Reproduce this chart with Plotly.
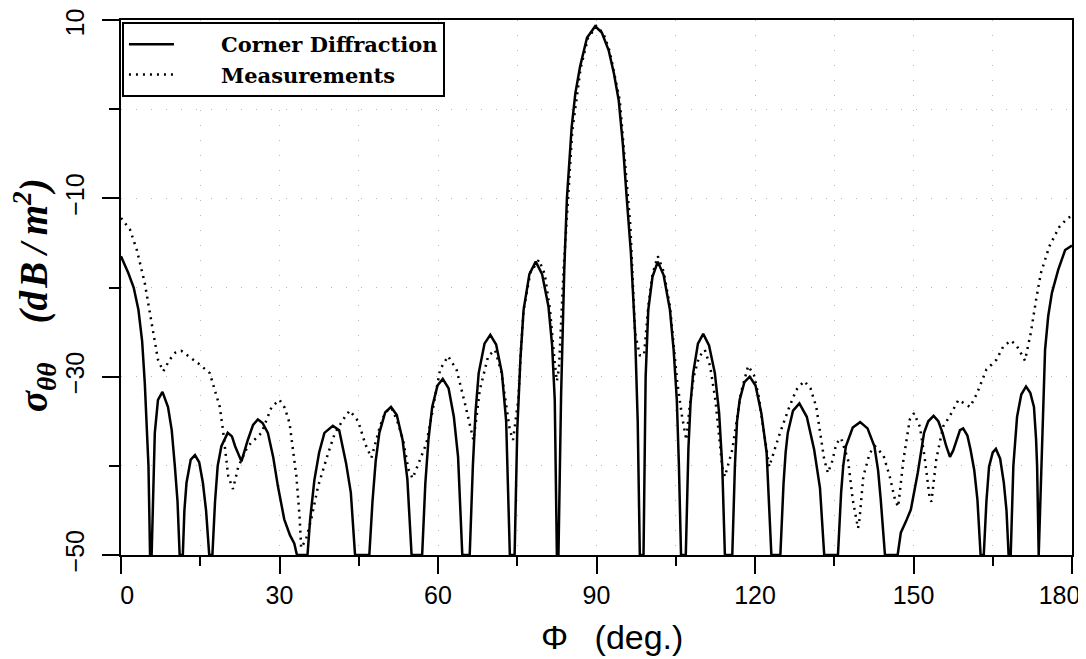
import plotly.graph_objects as go

# Corner Diffraction (solid)
phi_cd = [0, 1.4, 2.4, 3.3, 4.0, 4.5, 5.2, 5.5,
          5.8, 6.1, 6.4, 7.0, 7.85, 8.9, 9.6, 10.2, 10.7, 11.1,
          11.7, 12.0, 12.4, 13.2, 14.0, 14.8, 15.5, 16.1, 16.7,
          17.3, 17.8, 18.3, 19.0, 20.2, 21.0, 21.6, 22.8, 24.0, 25.0, 25.9, 26.8, 27.8, 28.8, 29.7, 30.9, 32.0, 32.8, 33.3, 35.3,
          35.8, 36.6, 37.5, 38.5, 40.1, 41.3, 42.6, 43.5, 44.3,
          47.0, 47.6, 48.2, 48.9, 50.0, 51.1, 52.2, 53.3, 54.2, 55.0,
          57.0, 57.6, 58.2, 58.9, 59.9, 60.9, 62.0, 63.0, 63.8, 64.6,
          66.0, 66.6, 67.1, 67.7, 68.8, 69.9, 71.0, 72.1, 72.9, 73.6,
          74.5, 75.0, 75.6, 76.2, 77.3, 78.5, 79.7, 80.9, 81.6, 82.1, 82.5,
          82.8, 83.3, 83.9, 84.4, 85.3, 86.0, 86.9, 88.2, 89.75, 91.0, 92.3, 93.3, 94.2, 95.0, 95.7, 96.5, 97.3, 97.8, 98.2,
          98.9, 99.3, 99.8, 100.6, 101.6, 102.7, 103.9, 104.6, 105.2, 105.6, 106.0,
          106.9, 107.4, 107.8, 108.3, 109.2, 110.2, 111.3, 112.4, 113.2, 113.8, 114.3,
          115.7, 116.2, 116.6, 117.1, 118.0, 119.0, 120.1, 121.2, 122.2, 123.1,
          124.8, 125.4, 125.8, 126.2, 127.2, 128.4, 129.8, 131.2, 132.3, 133.1,
          135.7, 136.3, 136.7, 137.2, 138.5, 139.9, 141.3, 142.6, 143.3, 143.8, 144.6,
          147.0, 147.6, 148.6, 149.5, 150.8, 151.4, 152.0, 152.8, 153.8, 154.7, 155.5, 156.2, 156.9, 157.5, 158.1, 158.8, 159.4, 160.2, 160.8, 161.5, 162.1, 162.7,
          163.3, 163.8, 164.3, 165.0, 165.6, 166.4, 167.1, 167.6, 168.0,
          168.4, 168.9, 169.6, 170.4, 171.3, 172.1, 172.8, 173.2, 173.4, 173.7,
          174.0, 174.4, 174.9, 175.5, 176.2, 177.4, 178.7, 180]
sigma_cd = [-16.5, -18.4, -20.0, -22.5, -26.0, -30.7, -40, -50,
            -50, -42, -36.3, -32.6, -31.7, -33.4, -36, -40.1, -44, -50,
            -50, -45, -41.9, -39.3, -38.8, -39.6, -41.9, -45, -50,
            -50, -44, -40, -37.8, -36.3, -36.7, -37.8, -39.5, -37.1, -35.4, -34.8, -35.2, -36.3, -39, -42.3, -46.0, -47.8, -48.7, -50, -50,
            -46, -41.6, -38.5, -36.3, -35.5, -36.0, -39.7, -43, -50,
            -50, -44, -39.5, -36.3, -34.0, -33.4, -34.3, -37.1, -41.5, -50,
            -50, -42, -37, -33.4, -31.0, -30.25, -31.3, -34.5, -39, -50,
            -50, -40, -34, -29.6, -26.3, -25.3, -26.4, -29.6, -35, -50,
            -50, -36, -28, -22.5, -18.5, -17.1, -18.5, -22.1, -26.5, -32.6, -50,
            -50, -32, -18, -10.0, -2.0, 1.8, 4.8, 8.0, 9.3, 8.6, 6.6, 4.0, 1.0, -4, -9.8, -16, -25.1, -35, -50,
            -50, -30, -22.5, -18.8, -17.1, -18.6, -22.5, -27, -32.6, -40, -50,
            -50, -38, -33, -29.6, -26.3, -25.2, -26.5, -29.6, -34, -40, -50,
            -50, -40, -35, -32.6, -30.6, -30.0, -31.0, -34.1, -38.5, -50,
            -50, -42, -38.5, -36.3, -33.8, -33.0, -34.5, -38.2, -42.5, -50,
            -50, -43, -40, -37.8, -35.7, -35.1, -35.8, -37.8, -40.5, -43.8, -50,
            -50, -47.5, -46.2, -44.9, -40.8, -38.5, -36.3, -35.0, -34.4, -35.0, -36.3, -37.8, -39.0, -38.3, -37.1, -36.0, -35.8, -36.6, -38.2, -40.5, -43.8, -50,
            -50, -44, -40.1, -38.5, -38.1, -39.2, -41.9, -45, -50,
            -50, -40, -34.5, -32.0, -31.1, -31.8, -33.4, -37, -40.1, -50,
            -43.8, -35, -27.0, -23.2, -20.6, -18.0, -15.8, -15.3]

# Measurements (dotted)
phi_meas = [0, 1.7, 3.0, 4.5, 5.8, 7.0, 8.0, 9.2, 10.3, 11.4, 13.0, 14.6, 16.8, 17.7, 18.7, 19.3, 20.3, 21.2, 22.2, 24.0,
            26.6, 28.5, 30.0, 31.0, 31.9, 33.2, 33.8, 34.1, 35.0, 36.0, 37.3, 39.2, 40.5, 42.4, 43.3, 44.9, 46.2, 47.4,
            49.0, 50.0, 51.2, 52.3, 53.4, 54.4, 55.2, 56.6, 57.8, 58.6, 59.4, 60.4, 61.9, 63.5, 65.1, 66.7, 67.3, 67.9,
            69.5, 70.8, 72.0, 72.7, 73.6, 74.2, 75.2, 75.7, 76.2, 77.5, 79.1, 80.2, 81.2, 82.1, 82.5, 82.9, 83.3, 83.8,
            84.6, 85.4, 87.0, 88.4, 90.0, 91.3, 92.5, 94.4, 95.9, 96.4, 97.3, 98.2, 99.0, 99.8, 100.6, 101.6, 102.7,
            103.9, 105.3, 106.2, 107.0, 107.6, 108.4, 109.4, 110.5, 111.5, 112.5, 113.8, 114.3, 115.7, 117.3, 118.7,
            119.8, 120.7, 122.3, 122.7, 124.5, 126.3, 127.8, 129.3, 130.5, 131.6, 133.1, 133.8, 134.6, 135.4, 136.3,
            137.6, 138.5, 139.5, 139.8, 140.5, 141.7, 142.7, 144.3, 145.5, 146.5, 147.1, 148.1, 149.3, 150.1, 151.2,
            152.1, 153.1, 153.4, 154.3, 155.6, 156.8, 158.5, 160.7, 162.0, 163.8, 165.7, 167.0, 168.5, 169.6, 171.1,
            172.2, 173.2, 174.1, 175.7, 177.6, 179.2, 180]
sigma_meas = [-12.2, -13.5, -15.8, -19.5, -24.0, -28.1, -29.4, -28.1, -27.3, -27.1, -27.8, -28.5, -29.6, -31.5, -33.4, -36.0, -41.2, -42.6, -40.1, -37.8,
              -36.3, -33.4, -32.6, -33.5, -35.2, -41.2, -45.7, -49.2, -48.3, -46.0, -42.3, -38.6, -36.3, -34.5, -33.8, -35.0, -37.5, -39.1,
              -35.6, -34.0, -33.5, -35.0, -37.1, -40.4, -41.4, -39.3, -37.5, -35, -32.6, -29.2, -27.7, -29.2, -33.0, -37.1, -34.5, -31.5,
              -27.7, -27.0, -29.5, -32.6, -36.0, -37.1, -32.6, -27, -22.5, -18.3, -16.9, -18.5, -22.5, -28.5, -30.5, -29.0, -24, -17.7,
              -10.2, -2.5, 4.6, 8.0, 9.3, 8.5, 6.5, 1.0, -9.5, -13, -25.1, -27.6, -27.6, -22.1, -18.5, -16.5, -18.2,
              -22.1, -30.7, -34.5, -37.1, -33.5, -30.0, -27.8, -27.0, -28.8, -32.6, -40.1, -41.2, -38.2, -31.9, -28.8,
              -29.8, -32.2, -38.6, -40.1, -36.7, -33.7, -31.5, -30.5, -31.3, -33.4, -39.3, -40.8, -39.5, -37.5, -36.9,
              -39.3, -43.8, -47.0, -45.9, -41.2, -38.6, -37.8, -38.8, -41.2, -43.8, -44.6, -39.3, -34.8, -34.1, -35.6,
              -39.0, -43.8, -44.0, -39.3, -35.6, -34.5, -32.6, -33.4, -31.9, -29.2, -28.1, -26.6, -25.95, -26.6, -28.2,
              -25.1, -21.4, -18.4, -15.4, -13.2, -12.2, -12.0]

x_ticks = [0, 30, 60, 90, 120, 150, 180]
x_tick_labels = ["\u20020", "30", "60", "90", "120", "150", "180\u2003"]
y_ticks = [-50, -30, -10, 10]
y_tick_labels = ["\u221250", "\u221230", "\u221210", "10\u2002"]

SP = "\u2003\u2003"
fig = go.Figure()
fig.add_trace(go.Scatter(x=phi_cd, y=sigma_cd, mode="lines",
                         name=SP + "<b>Corner Diffraction</b>", legendgroup="a",
                         line=dict(color="black", width=2.5)))
fig.add_trace(go.Scatter(x=phi_meas, y=sigma_meas, mode="lines",
                         name=SP + "<b>Measurements</b>", legendgroup="b",
                         line=dict(color="black", width=2.5, dash="2px,5px")))

tick_font = dict(family="Liberation Sans Narrow, Liberation Sans, Arial", size=25, color="black")
gc = "#b8b8b8"
gd = "1px,14px"

# page has an 8px body margin: figure is sized to fill the remaining window
fig.update_layout(
    width=1078, height=651,
    margin=dict(l=113, r=14, t=12, b=104),
    paper_bgcolor="white", plot_bgcolor="white",
    showlegend=True,
    legend=dict(x=0.001, y=0.996, xanchor="left", yanchor="top",
                bordercolor="black", borderwidth=2, bgcolor="white",
                font=dict(family="DejaVu Serif", size=21, color="black"),
                itemwidth=45, tracegroupgap=0, traceorder="grouped"),
    xaxis=dict(range=[0, 180], tickvals=x_ticks, ticktext=x_tick_labels, ticks="outside",
               ticklen=17, tickwidth=2,
               tickcolor="black", tickfont=tick_font, showline=True, linecolor="black",
               linewidth=2, mirror=True, zeroline=False, automargin=False,
               ticklabeloverflow="allow",
               showgrid=True, gridcolor=gc, gridwidth=1, griddash=gd,
               minor=dict(dtick=15, tick0=0, ticks="outside", ticklen=9, tickwidth=2,
                          tickcolor="black", showgrid=True, gridcolor=gc,
                          griddash=gd, gridwidth=1)),
    yaxis=dict(range=[-50, 10], tickvals=y_ticks, ticktext=y_tick_labels, tickangle=-90,
               ticks="outside", ticklen=17, tickwidth=2, tickcolor="black", tickfont=tick_font,
               showline=True, linecolor="black", linewidth=2, mirror=True, zeroline=False,
               automargin=False, ticklabeloverflow="allow", ticklabelstandoff=8,
               showgrid=True, gridcolor=gc, gridwidth=1, griddash=gd,
               minor=dict(tickvals=[-40, -20, 0], ticks="outside", ticklen=10, tickwidth=2,
                          tickcolor="black", showgrid=True, gridcolor=gc,
                          griddash=gd, gridwidth=1)),
)

fig.add_annotation(text="<b><i>σ<sub>θθ</sub>\u2003(d\u200aB\u2009/\u2009m<sup>2</sup>)</i></b>",
                   textangle=-90, xref="paper", yref="paper", x=-0.0905, y=0.486,
                   xanchor="center", yanchor="middle", showarrow=False,
                   font=dict(family="Liberation Serif", size=39, color="black"))
fig.add_annotation(text="Φ\u2002 (deg.)", xref="paper", yref="paper", x=0.516, y=-0.153,
                   xanchor="center", yanchor="middle", showarrow=False,
                   font=dict(family="Liberation Sans Narrow, Liberation Sans", size=34, color="black"))

fig.write_html("out.html")
